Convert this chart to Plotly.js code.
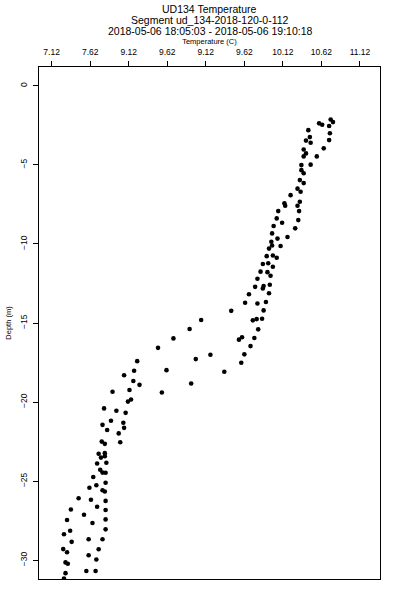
<!DOCTYPE html>
<html>
<head>
<meta charset="utf-8">
<script src="https://cdn.plot.ly/plotly-3.0.1.min.js"></script>
<style>html,body{margin:0;padding:0;background:#fff;}#chart{width:400px;height:600px;}</style>
</head>
<body>
<div id="chart"></div>
<script>
// Temperature (C) readings
var temperature = [
10.74,10.77,10.59,10.63,10.72,10.45,10.73,10.47,10.42,10.48,
10.72,10.65,10.39,10.42,10.39,10.56,10.36,10.48,10.36,10.39,
10.34,10.39,10.31,10.35,10.22,10.34,10.14,10.15,10.31,10.33,
10.06,10.04,10.32,10.11,10.00,10.28,9.98,10.18,10.05,9.97,
9.98,9.94,10.09,9.91,9.99,10.04,9.86,9.93,9.99,9.83,
9.92,9.96,9.79,9.95,9.76,9.87,9.86,9.94,9.68,9.63,
9.79,9.90,9.45,9.87,9.73,9.78,9.85,9.80,9.55,9.59,
9.75,9.70,9.62,9.58,9.06,8.91,8.70,8.50,9.18,8.99,
8.23,8.61,8.19,9.36,8.06,8.18,8.26,8.93,8.55,7.91,
8.13,8.15,8.11,7.80,7.96,8.08,7.89,8.05,7.78,7.84,
8.06,7.99,7.77,7.81,8.01,7.73,7.81,7.76,7.81,7.71,
7.83,7.75,7.78,7.82,7.66,7.82,7.70,7.61,7.78,7.81,
7.47,7.63,7.82,7.71,7.37,7.82,7.54,7.32,7.82,7.65,
7.36,7.82,7.28,7.60,7.78,7.38,7.27,7.32,7.73,7.60,
7.70,7.30,7.33,7.57,7.69,7.30,7.28
];
// Depth (m) readings
var depth = [
-2.13,-2.29,-2.37,-2.46,-2.54,-2.80,-3.00,-3.24,-3.46,-3.60,
-3.43,-3.95,-4.02,-4.27,-4.46,-4.46,-5.01,-4.98,-5.33,-5.53,
-5.96,-6.15,-6.50,-6.70,-6.91,-7.33,-7.43,-7.58,-7.58,-7.92,
-7.92,-8.38,-8.49,-8.66,-8.86,-9.01,-9.33,-9.56,-9.66,-9.86,
-10.10,-10.29,-10.13,-10.77,-10.73,-10.87,-11.27,-11.22,-11.44,-11.75,
-11.78,-12.01,-12.20,-12.58,-12.71,-12.66,-12.81,-13.12,-13.18,-13.72,
-13.76,-13.67,-14.23,-14.20,-14.83,-14.75,-14.73,-15.40,-16.05,-15.90,
-15.95,-16.46,-16.98,-17.51,-14.81,-15.38,-15.97,-16.57,-17.01,-17.28,
-17.41,-17.98,-18.02,-18.08,-18.30,-18.67,-18.91,-18.82,-19.39,-19.35,
-19.24,-19.84,-19.97,-20.40,-20.55,-20.68,-21.18,-21.31,-21.44,-21.77,
-21.63,-21.98,-22.50,-22.64,-22.54,-23.27,-23.23,-23.51,-23.42,-23.88,
-23.84,-24.28,-24.46,-24.47,-24.74,-25.10,-25.26,-25.42,-25.58,-25.66,
-26.08,-26.18,-26.25,-26.62,-26.79,-26.83,-27.13,-27.46,-27.42,-27.65,
-28.14,-28.05,-28.36,-28.68,-28.68,-28.84,-29.30,-29.50,-29.31,-29.69,
-29.96,-30.14,-30.23,-30.68,-30.68,-30.82,-31.16
];
var xTickVals = [7.12,7.62,8.12,8.62,9.12,9.62,10.12,10.62,11.12];
var xTickText = ["7.12","7.62","9.12","9.62","9.12","9.62","10.12","10.62","11.12"];
var yTickVals = [0,-5,-10,-15,-20,-25,-30];
var titleLines = ["UD134 Temperature","Segment ud_134-2018-120-0-112","2018-05-06 18:05:03 - 2018-05-06 19:10:18"];

var F = "Liberation Sans, Arial, Helvetica, sans-serif";
var trace = {
  x: temperature, y: depth, type: "scatter", mode: "markers",
  marker: {color: "#000", size: 4.6, symbol: "circle"},
  hoverinfo: "skip"
};
var ann = titleLines.map(function(t, i){
  return {text: t, xref: "paper", yref: "paper", x: 0.5, y: 1, yshift: 58.5 - i*11.2,
    xanchor: "center", yanchor: "middle", showarrow: false,
    font: {family: F, size: 10.5, color: "#000"}};
});
var layout = {
  width: 400, height: 600,
  margin: {l: 39, r: 20, t: 67, b: 21, pad: 0},
  paper_bgcolor: "#fff", plot_bgcolor: "#fff",
  showlegend: false,
  annotations: ann,
  xaxis: {
    side: "top", range: [6.956, 11.38], autorange: false,
    tickmode: "array", tickvals: xTickVals, ticktext: xTickText,
    ticks: "outside", ticklen: 5, tickwidth: 1, tickcolor: "#000",
    ticklabelstandoff: 3,
    tickfont: {family: F, size: 8.5, color: "#000"},
    showgrid: false, zeroline: false,
    showline: true, mirror: true, linecolor: "#000", linewidth: 1,
    title: {text: "Temperature (C)", font: {family: F, size: 7.5, color: "#000"}, standoff: 0}
  },
  yaxis: {
    range: [-31.19, 1.195], autorange: false,
    tickmode: "array", tickvals: yTickVals,
    ticks: "outside", ticklen: 5, tickwidth: 1, tickcolor: "#000",
    tickangle: -90, ticklabelstandoff: 3,
    tickfont: {family: F, size: 8.5, color: "#000"},
    showgrid: false, zeroline: false,
    showline: true, mirror: true, linecolor: "#000", linewidth: 1,
    title: {text: "Depth (m)", font: {family: F, size: 7.5, color: "#000"}, standoff: 5}
  }
};
Plotly.newPlot("chart", [trace], layout, {displayModeBar: false, staticPlot: true});
</script>
</body>
</html>
